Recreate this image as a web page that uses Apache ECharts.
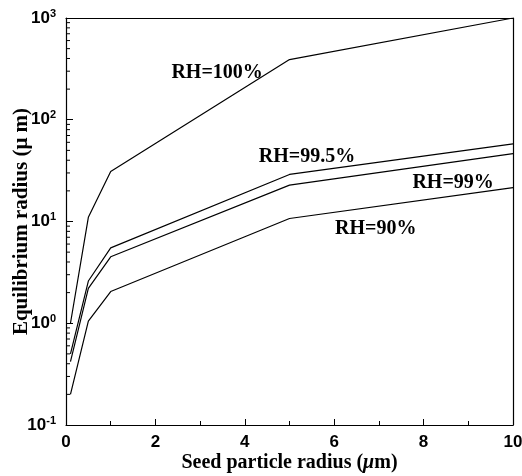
<!DOCTYPE html>
<html>
<head>
<meta charset="utf-8">
<script src="https://cdn.jsdelivr.net/npm/echarts@6/dist/echarts.min.js"></script>
<style>
  html, body { margin: 0; padding: 0; background: #fff; }
  #chart { width: 522px; height: 476px; }
</style>
</head>
<body>
<div id="chart"></div>
<script>
// Seed particle radius (um)
const seedRadius = [0.1, 0.5, 1, 5, 10];
// Equilibrium radius (um) for each relative humidity
const rh100 = [1.0, 11, 31, 390, 1000];
const rh995 = [0.5, 2.6, 5.5, 29, 58];
const rh99 = [0.42, 2.2, 4.5, 22.8, 46.5];
const rh90 = [0.2, 1.05, 2.05, 10.7, 21.5];
// Curve annotations: [x, y, text]
const curveLabels = [
  [3.38, 290, 'RH=100%'],
  [5.39, 43, 'RH=99.5%'],
  [8.66, 24, 'RH=99%'],
  [6.93, 8.4, 'RH=90%']
];
// Y tick exponents and minor multipliers
const yExponents = [-1, 0, 1, 2, 3];
const minorMultipliers = [2, 3, 4, 5, 6, 7, 8, 9];

const chart = echarts.init(document.getElementById('chart'));

function pairs(ys) { return seedRadius.map((x, i) => [x, ys[i]]); }

// minor tick positions on the log axis (2..9 x 10^k)
const minorTicks = [];
for (let k = 0; k < yExponents.length - 1; k++) {
  minorMultipliers.forEach(m => minorTicks.push(m * Math.pow(10, yExponents[k])));
}

const lineStyle = { color: '#000', width: 1.2 };
const serif = '"Liberation Serif", "Times New Roman", serif';
const sans = '"Liberation Sans", Arial, sans-serif';

function lineSeries(name, ys) {
  return {
    name, type: 'line', data: pairs(ys), symbol: 'none',
    lineStyle, itemStyle: { color: '#000' }, z: 3, silent: true
  };
}

chart.setOption({
  animation: false,
  backgroundColor: '#fff',
  grid: { left: 66, right: 9, top: 18, bottom: 51, containLabel: false, outerBoundsMode: 'none' },
  xAxis: [{
    type: 'value', min: 0, max: 10, interval: 2,
    axisLine: { lineStyle: { color: '#000', width: 1.2 } },
    axisTick: { inside: true, length: 6, lineStyle: { color: '#000' } },
    minorTick: { show: true, splitNumber: 2, length: 4, lineStyle: { color: '#000' } },
    splitLine: { show: false },
    axisLabel: { color: '#000', fontFamily: sans, fontWeight: 'bold', fontSize: 17, margin: 9 },
    name: 'Seed particle radius ({i|\u03bc}m)',
    nameLocation: 'middle', nameGap: 28, nameMoveOverlap: false,
    nameTextStyle: {
      color: '#000', fontFamily: serif, fontWeight: 'bold', fontSize: 20,
      rich: { i: { fontFamily: serif, fontStyle: 'italic', fontWeight: 'bold', fontSize: 20, color: '#000' } }
    }
  }, {
    type: 'value', min: 0, max: 10, interval: 2, position: 'top',
    axisLine: { show: true, onZero: false, lineStyle: { color: '#000', width: 1.2 } },
    axisTick: { show: false }, axisLabel: { show: false }, splitLine: { show: false }
  }],
  yAxis: [{
    type: 'log', min: 0.1, max: 1000, logBase: 10,
    axisLine: { show: true, lineStyle: { color: '#000', width: 1.2 } },
    axisTick: { inside: true, length: 7, lineStyle: { color: '#000' } },
    splitLine: { show: false },
    axisLabel: {
      color: '#000', margin: 10,
      formatter: v => {
        const e = Math.round(Math.log10(v));
        return '{b|10}{s|' + e + '}';
      },
      rich: {
        b: { fontFamily: sans, fontWeight: 'bold', fontSize: 17, color: '#000' },
        s: { fontFamily: sans, fontWeight: 'bold', fontSize: 11, color: '#000', padding: [0, 0, 9, 0] }
      }
    },
    name: 'Equilibrium radius (\u03bc m)',
    nameLocation: 'middle', nameGap: 34, nameRotate: 90, nameMoveOverlap: false,
    nameTextStyle: { color: '#000', fontFamily: serif, fontWeight: 'bold', fontSize: 21 }
  }, {
    type: 'log', min: 0.1, max: 1000, logBase: 10, position: 'right',
    axisLine: { show: true, onZero: false, lineStyle: { color: '#000', width: 1.2 } },
    axisTick: { show: false }, axisLabel: { show: false }, splitLine: { show: false }
  }],
  series: [
    lineSeries('RH=100%', rh100),
    lineSeries('RH=99.5%', rh995),
    lineSeries('RH=99%', rh99),
    lineSeries('RH=90%', rh90),
    {
      // minor ticks on the left log axis
      type: 'custom', silent: true, z: 2,
      data: minorTicks.map(v => [0, v]),
      renderItem: (params, api) => {
        const p = api.coord([0, api.value(1)]);
        return {
          type: 'line',
          shape: { x1: p[0], y1: p[1], x2: p[0] + 4, y2: p[1] },
          style: { stroke: '#000', lineWidth: 1 }
        };
      }
    },
    {
      // curve annotations
      type: 'scatter', symbolSize: 0, silent: true, z: 4,
      itemStyle: { color: '#000', opacity: 1 },
      data: curveLabels.map(d => ({ value: [d[0], d[1]], name: d[2] })),
      label: {
        show: true, position: 'inside', formatter: p => p.name,
        color: '#000', opacity: 1, textBorderWidth: 0,
        fontFamily: serif, fontWeight: 'bold', fontSize: 20
      }
    }
  ]
});
</script>
</body>
</html>
